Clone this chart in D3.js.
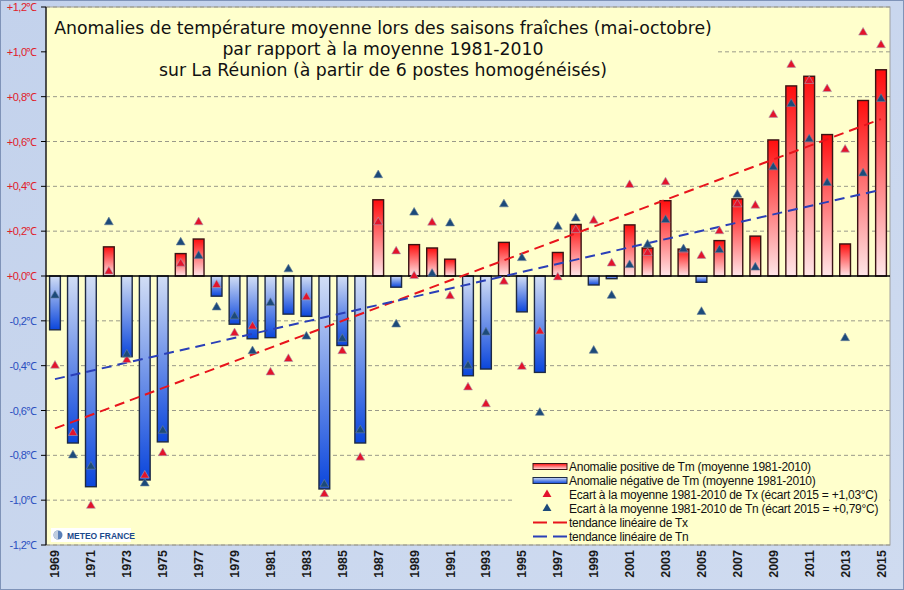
<!DOCTYPE html>
<meta charset="utf-8" />
<style>
  body { margin: 0; background: #c9d6ee; }
  svg { display: block; }
</style>
<script src="https://d3js.org/d3.v7.min.js"></script>
<svg id="chart" width="904" height="590"></svg>
<script>
  // years 1969-2015
  const years = d3.range(1969, 2016);

  // Tm anomaly (bars)
  const tm = [-0.24, -0.745, -0.94, 0.13, -0.36, -0.91, -0.74, 0.10, 0.165, -0.09,
    -0.215, -0.28, -0.275, -0.17, -0.18, -0.95, -0.31, -0.745, 0.34, -0.05,
    0.14, 0.125, 0.075, -0.445, -0.415, 0.15, -0.16, -0.43, 0.105, 0.23,
    -0.04, -0.012, 0.228, 0.125, 0.336, 0.12, -0.028, 0.158, 0.344, 0.178,
    0.607, 0.848, 0.891, 0.631, 0.143, 0.783, 0.92];

  // Tx anomaly (red triangles)
  const tx = [-0.40, -0.70, -1.025, 0.02, -0.375, -0.89, -0.79, 0.055, 0.24, -0.04,
    -0.255, -0.225, -0.43, -0.37, -0.095, -0.973, -0.335, -0.81, 0.24, 0.11,
    0.0, 0.238, -0.09, -0.497, -0.572, -0.025, -0.405, -0.247, -0.006, 0.205,
    0.247, 0.056, 0.406, 0.103, 0.418, 0.115, 0.09, 0.2, 0.32, 0.314,
    0.719, 0.942, 0.87, 0.834, 0.564, 1.086, 1.03];

  // Tn anomaly (blue triangles)
  const tn = [-0.087, -0.80, -0.85, 0.24, -0.35, -0.925, -0.69, 0.15, 0.09, -0.14,
    -0.18, -0.335, -0.12, 0.03, -0.27, -0.93, -0.28, -0.688, 0.45, -0.216,
    0.283, 0.01, 0.235, -0.40, -0.252, 0.32, 0.08, -0.61, 0.22, 0.257,
    -0.333, -0.088, 0.049, 0.14, 0.25, 0.12, -0.16, 0.116, 0.363, 0.038,
    0.485, 0.768, 0.61, 0.415, -0.277, 0.458, 0.79];

  // linear trends, value at 1969 and 2015
  const trendTx = [-0.68, 0.70];
  const trendTn = [-0.46, 0.385];

  const yTicks = [-1.2, -1.0, -0.8, -0.6, -0.4, -0.2, 0, 0.2, 0.4, 0.6, 0.8, 1.0, 1.2];

  const titleLines = [
    "Anomalies de température moyenne lors des saisons fraîches (mai-octobre)",
    "par rapport à la moyenne 1981-2010",
    "sur La Réunion (à partir de 6 postes homogénéisés)"
  ];

  const legendLabels = [
    "Anomalie positive de Tm (moyenne  1981-2010)",
    "Anomalie négative de Tm (moyenne  1981-2010)",
    "Ecart à la moyenne  1981-2010 de Tx (écart 2015 = +1,03°C)",
    "Ecart à la moyenne  1981-2010 de Tn (écart 2015 = +0,79°C)",
    "tendance linéaire de Tx",
    "tendance linéaire de Tn"
  ];

  const svg = d3.select('#chart');
  const mLeft = 46, mRight = 890, mTop = 7, mBottom = 545;

  const x = d3.scaleBand().domain(years).range([mLeft, mRight]).paddingInner(0.4).paddingOuter(0.2);
  const y = d3.scaleLinear().domain([-1.2, 1.2]).range([mBottom, mTop]);

  // gradients
  const defs = svg.append('defs');
  const gPos = defs.append('linearGradient').attr('id', 'gpos')
    .attr('x1', 0).attr('y1', 0).attr('x2', 0).attr('y2', 1);
  gPos.append('stop').attr('offset', '0%').attr('stop-color', '#ff0d0d');
  gPos.append('stop').attr('offset', '100%').attr('stop-color', '#ffe6e8');
  const gNeg = defs.append('linearGradient').attr('id', 'gneg')
    .attr('x1', 0).attr('y1', 0).attr('x2', 0).attr('y2', 1);
  gNeg.append('stop').attr('offset', '0%').attr('stop-color', '#d2def5');
  gNeg.append('stop').attr('offset', '100%').attr('stop-color', '#0b46dc');
  const gBg = defs.append('linearGradient').attr('id', 'gbg')
    .attr('x1', 0).attr('y1', 0).attr('x2', 1).attr('y2', 1);
  gBg.append('stop').attr('offset', '0%').attr('stop-color', '#c3d2ec');
  gBg.append('stop').attr('offset', '100%').attr('stop-color', '#cfdbf0');

  // page background and frame
  svg.append('rect')
    .attr('x', 0.5).attr('y', 0.5).attr('width', 903).attr('height', 589)
    .attr('fill', 'url(#gbg)').attr('stroke', '#7f93b8');

  // plot background
  svg.append('rect')
    .attr('x', mLeft).attr('y', mTop)
    .attr('width', mRight - mLeft).attr('height', mBottom - mTop)
    .attr('fill', '#ffffcc')
    .attr('stroke', '#a0a0a0');

  // grid lines
  svg.append('g').selectAll('line')
    .data(yTicks.filter(d => d !== 0))
    .enter().append('line')
    .attr('x1', mLeft).attr('x2', mRight)
    .attr('y1', d => y(d)).attr('y2', d => y(d))
    .attr('stroke', '#9a9a8a')
    .attr('stroke-dasharray', '4,3');

  // title background and text
  svg.append('rect')
    .attr('x', mLeft + 1).attr('y', 13).attr('width', 670).attr('height', 70)
    .attr('fill', '#ffffcc');
  svg.append('g').selectAll('text')
    .data(titleLines)
    .enter().append('text')
    .attr('x', 383)
    .attr('y', (d, i) => 34 + i * 21)
    .attr('text-anchor', 'middle')
    .attr('font-family', 'DejaVu Sans, Verdana, sans-serif')
    .attr('font-size', 17.3)
    .attr('fill', '#111')
    .text(d => d);

  // legend background
  svg.append('rect')
    .attr('x', 515).attr('y', 458).attr('width', mRight - 515 - 1).attr('height', mBottom - 458 - 1)
    .attr('fill', '#ffffcc');

  // bars
  svg.append('g').selectAll('rect')
    .data(years)
    .enter().append('rect')
    .attr('x', d => x(d))
    .attr('width', x.bandwidth())
    .attr('y', (d, i) => y(Math.max(0, tm[i])))
    .attr('height', (d, i) => Math.abs(y(tm[i]) - y(0)))
    .attr('fill', (d, i) => tm[i] >= 0 ? 'url(#gpos)' : 'url(#gneg)')
    .attr('stroke', (d, i) => tm[i] >= 0 ? '#3a1414' : '#1e2a44')
    .attr('stroke-width', 1.4);

  // zero line
  svg.append('line')
    .attr('x1', mLeft).attr('x2', mRight)
    .attr('y1', y(0)).attr('y2', y(0))
    .attr('stroke', '#000').attr('stroke-width', 1.5);

  // trend lines
  const xc = d => x(d) + x.bandwidth() / 2;
  const trends = [
    { v: trendTx, color: '#e8141c' },
    { v: trendTn, color: '#2a3fb8' }
  ];
  svg.append('g').selectAll('line')
    .data(trends)
    .enter().append('line')
    .attr('x1', xc(years[0])).attr('x2', xc(years[years.length - 1]))
    .attr('y1', d => y(d.v[0])).attr('y2', d => y(d.v[1]))
    .attr('stroke', d => d.color)
    .attr('stroke-width', 2)
    .attr('stroke-dasharray', '10,6');

  // triangles
  const tri = d3.symbol().type(d3.symbolTriangle).size(34);
  function drawMarkers(vals, fill, stroke) {
    svg.append('g').selectAll('path')
      .data(years)
      .enter().append('path')
      .attr('d', tri)
      .attr('transform', (d, i) => 'translate(' + xc(d) + ',' + y(vals[i]) + ')')
      .attr('fill', fill)
      .attr('stroke', stroke)
      .attr('stroke-width', 0.6);
  }
  drawMarkers(tx, '#e3132c', '#a8a0b0');
  drawMarkers(tn, '#1c4a7a', '#6a7f99');

  // y axis
  svg.append('line')
    .attr('x1', mLeft).attr('x2', mLeft).attr('y1', mTop).attr('y2', mBottom)
    .attr('stroke', '#000').attr('stroke-width', 1.2);
  const ya = svg.append('g').selectAll('g')
    .data(yTicks)
    .enter().append('g');
  ya.append('line')
    .attr('x1', mLeft - 5).attr('x2', mLeft)
    .attr('y1', d => y(d)).attr('y2', d => y(d))
    .attr('stroke', '#000');
  ya.append('text')
    .attr('x', 37)
    .attr('y', d => y(d) + 4)
    .attr('text-anchor', 'end')
    .attr('font-family', 'Liberation Sans, Arial, sans-serif')
    .attr('font-size', 11)
    .attr('letter-spacing', -0.5)
    .attr('fill', d => d >= 0 ? '#e0202a' : '#2a4fc0')
    .text(d => (d >= 0 ? '+' : '-') + Math.abs(d).toFixed(1).replace('.', ',') + '℃');

  // x labels, odd years
  svg.append('g').selectAll('text')
    .data(years.filter(d => d % 2 === 1))
    .enter().append('text')
    .attr('transform', d => 'translate(' + (xc(d) + 4.5) + ',' + 550 + ') rotate(-90)')
    .attr('text-anchor', 'end')
    .attr('font-family', 'Liberation Sans, Arial, sans-serif')
    .attr('font-weight', 'bold')
    .attr('font-size', 12.5)
    .attr('fill', '#1a1a1a')
    .text(d => d);

  // legend
  const lg = svg.append('g');
  const rowY = i => 466.5 + i * 14;
  const lx = 533, lw = 34;
  lg.append('rect').attr('x', lx).attr('y', rowY(0) - 3).attr('width', lw).attr('height', 6)
    .attr('fill', 'url(#gpos)').attr('stroke', '#3a1414');
  lg.append('rect').attr('x', lx).attr('y', rowY(1) - 3).attr('width', lw).attr('height', 6)
    .attr('fill', 'url(#gneg)').attr('stroke', '#1e2a44');
  lg.append('path').attr('d', tri).attr('transform', 'translate(' + (lx + 14) + ',' + rowY(2) + ')')
    .attr('fill', '#e3132c');
  lg.append('path').attr('d', tri).attr('transform', 'translate(' + (lx + 14) + ',' + rowY(3) + ')')
    .attr('fill', '#1c4a7a');
  lg.append('line').attr('x1', lx).attr('x2', lx + lw).attr('y1', rowY(4)).attr('y2', rowY(4))
    .attr('stroke', '#e8141c').attr('stroke-width', 2).attr('stroke-dasharray', '14,6');
  lg.append('line').attr('x1', lx).attr('x2', lx + lw).attr('y1', rowY(5)).attr('y2', rowY(5))
    .attr('stroke', '#2a3fb8').attr('stroke-width', 2).attr('stroke-dasharray', '14,6');
  lg.selectAll('text.lab')
    .data(legendLabels)
    .enter().append('text')
    .attr('class', 'lab')
    .attr('x', (d, i) => i < 2 || i > 3 ? lx + lw + 2 : 569)
    .attr('y', (d, i) => rowY(i) + 4)
    .attr('font-family', 'Liberation Sans, Arial, sans-serif')
    .attr('font-size', 12)
    .attr('letter-spacing', -0.25)
    .attr('fill', '#111')
    .text(d => d);

  // logo
  const logo = svg.append('g');
  logo.append('rect').attr('x', 51).attr('y', 528).attr('width', 80).attr('height', 14).attr('fill', '#fff');
  logo.append('circle').attr('cx', 58).attr('cy', 535).attr('r', 4.5).attr('fill', '#5a7fb8');
  logo.append('path')
    .attr('d', d3.arc()({ innerRadius: 0, outerRadius: 4.5, startAngle: Math.PI, endAngle: 2 * Math.PI }))
    .attr('transform', 'translate(58,535)')
    .attr('fill', '#c0cde0');
  logo.append('text').attr('x', 67).attr('y', 538.5)
    .attr('font-family', 'Liberation Sans, Arial, sans-serif')
    .attr('font-weight', 'bold').attr('font-size', 8.5)
    .attr('fill', '#1d4a8c')
    .text('METEO FRANCE');
</script>
